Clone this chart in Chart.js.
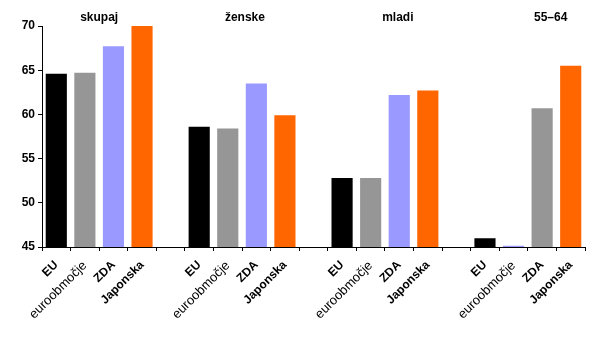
<!DOCTYPE html>
<html>
<head>
<meta charset="utf-8">
<script src="https://cdn.jsdelivr.net/npm/chart.js@4"></script>
<style>
  html, body { margin: 0; padding: 0; background: #fff; }
  #wrap { width: 602px; height: 341px; }
</style>
</head>
<body>
<div id="wrap"><canvas id="chart" width="602" height="341"></canvas></div>
<script>
// group names and country labels
const groups = ['skupaj', 'ženske', 'mladi', '55–64'];
const countries = ['EU', 'euroobmočje', 'ZDA', 'Japonska'];

// employment rates per group (EU, euroobmočje, ZDA, Japonska)
const skupaj = [64.6, 64.7, 67.7, 70.0];
const zenske = [58.6, 58.4, 63.5, 59.9];
const mladi = [52.8, 52.8, 62.2, 62.7];
const starejsi = [46.0, 45.15, 60.7, 65.5];

const yTicks = [45, 50, 55, 60, 65, 70];

// styling
const BLACK = '#000000', GRAY = '#969696', LAVENDER = '#9999FF', ORANGE = '#FF6600';
const groupColors = [
  [BLACK, GRAY, LAVENDER, ORANGE],
  [BLACK, GRAY, LAVENDER, ORANGE],
  [BLACK, GRAY, LAVENDER, ORANGE],
  [BLACK, LAVENDER, GRAY, ORANGE],
];
const titlePos = [1.5, 6.6, 11.95, 17.3];
const FONT = '"Liberation Sans", Arial, sans-serif';

const series = [skupaj, zenske, mladi, starejsi];
const labels = [];
const values = [];
const colors = [];
series.forEach((vals, g) => {
  if (g > 0) { labels.push(''); values.push(null); colors.push('transparent'); }
  vals.forEach((v, i) => {
    labels.push(countries[i]);
    values.push(v);
    colors.push(groupColors[g][i]);
  });
});

const groupTitles = {
  id: 'groupTitles',
  afterDraw(chart) {
    const { ctx, scales } = chart;
    ctx.save();
    ctx.font = 'bold 12px ' + FONT;
    ctx.fillStyle = '#000';
    ctx.textAlign = 'center';
    ctx.textBaseline = 'middle';
    groups.forEach((name, i) => {
      ctx.fillText(name, scales.x.getPixelForValue(titlePos[i]), 18);
    });
    ctx.restore();
  }
};

const chartCanvas = document.getElementById('chart').getContext('2d');
new Chart(chartCanvas, {
  type: 'bar',
  data: {
    labels: labels,
    datasets: [{
      data: values,
      backgroundColor: colors,
      borderWidth: 0,
      barPercentage: 0.74,
      categoryPercentage: 1.0,
    }],
  },
  options: {
    responsive: false,
    animation: false,
    devicePixelRatio: 1,
    layout: { padding: { top: 26, right: 17, left: 0, bottom: 0 } },
    plugins: {
      legend: { display: false },
      tooltip: { enabled: false },
    },
    scales: {
      x: {
        afterFit: (s) => { s.height = 94; },
        border: { color: '#000', width: 1 },
        grid: { drawOnChartArea: false, offset: true, color: '#000', tickLength: 4 },
        ticks: {
          autoSkip: false,
          maxRotation: 45,
          minRotation: 45,
          padding: 7,
          color: '#000',
          font: (ctx) => {
            const lab = labels[ctx.index];
            return lab === 'euroobmočje'
              ? { family: FONT, size: 13, weight: 'normal' }
              : { family: FONT, size: 12, weight: 'bold' };
          },
        },
      },
      y: {
        min: yTicks[0],
        max: yTicks[yTicks.length - 1],
        afterFit: (s) => { s.width = 42; },
        afterBuildTicks: (s) => { s.ticks = yTicks.map(v => ({ value: v })); },
        border: { color: '#000', width: 1 },
        grid: { drawOnChartArea: false, color: '#000', tickLength: 4 },
        ticks: {
          color: '#000',
          padding: 3,
          font: { family: FONT, size: 12, weight: 'bold' },
        },
      },
    },
  },
  plugins: [groupTitles],
});
</script>
</body>
</html>
